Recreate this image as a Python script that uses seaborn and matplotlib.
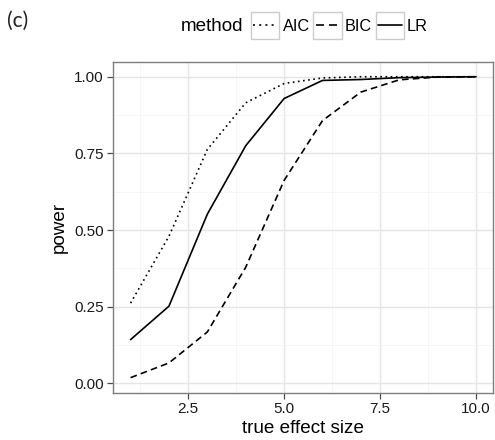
import matplotlib
matplotlib.use("Agg")
import matplotlib.pyplot as plt
from matplotlib.lines import Line2D
from matplotlib.patches import Rectangle
from matplotlib.ticker import MultipleLocator
import numpy as np
import pandas as pd
import seaborn as sns

# Power of each selection method across true effect sizes
effect_size = [1, 2, 3, 4, 5, 6, 7, 8, 9, 10]
power_aic = [0.262, 0.48, 0.763, 0.915, 0.978, 0.996, 1.0, 1.0, 1.0, 1.0]
power_bic = [0.019, 0.067, 0.168, 0.379, 0.662, 0.857, 0.95, 0.99, 0.999, 1.0]
power_lr = [0.143, 0.252, 0.552, 0.775, 0.929, 0.988, 0.991, 0.997, 0.999, 1.0]
methods = ["AIC", "BIC", "LR"]
x_ticks = [2.5, 5.0, 7.5, 10.0]
y_ticks = [0.0, 0.25, 0.5, 0.75, 1.0]

df = pd.DataFrame({
    "true effect size": effect_size * 3,
    "power": power_aic + power_bic + power_lr,
    "method": [m for m in methods for _ in effect_size],
})

sns.set_theme(style="white")
plt.rcParams["font.family"] = ["Liberation Sans", "DejaVu Sans"]

W, H = 495, 440
fig = plt.figure(figsize=(W / 100, H / 100), dpi=100)
ax = fig.add_axes([113.3 / W, 1 - 392.7 / H, 380 / W, 331 / H])

LW = 1.2
dash_styles = {"AIC": (1, 2.1), "BIC": (4, 2.5), "LR": ""}
sns.lineplot(data=df, x="true effect size", y="power", style="method",
             dashes=dash_styles, color="black", linewidth=LW,
             legend=False, ax=ax)

# theme_bw-like panel
lo, hi = min(power_bic), 1.0
pad = 0.05 * (hi - lo)
ax.set_ylim(lo - pad, hi + pad)
ax.set_xlim(1 - 0.45, 10 + 0.45)
ax.set_xticks(x_ticks)
ax.set_xticklabels(["2.5", "5.0", "7.5", "10.0"])
ax.set_yticks(y_ticks)
ax.set_yticklabels(["0.00", "0.25", "0.50", "0.75", "1.00"])
ax.xaxis.set_minor_locator(MultipleLocator(1.25))
ax.yaxis.set_minor_locator(MultipleLocator(0.125))
ax.grid(True, which="major", color="#E5E5E5", linewidth=1.0)
ax.grid(True, which="minor", color="#F5F5F5", linewidth=0.6)
ax.set_axisbelow(True)
for s in ax.spines.values():
    s.set_color("#7F7F7F")
    s.set_linewidth(1.0)
ax.tick_params(axis="both", which="major", length=4.2, width=0.9,
               color="#4D4D4D", labelsize=11, labelcolor="#1A1A1A",
               bottom=True, left=True, pad=2.5)
ax.tick_params(axis="both", which="minor", length=0)
ax.set_xlabel("true effect size", fontsize=13.6, color="black", labelpad=3)
ax.set_ylabel("power", fontsize=13.6, color="black", labelpad=5)

# panel tag
fig.text(7 / W, 1 - 21 / H, "(c)", fontsize=15, family=["Lato", "DejaVu Sans"],
         ha="left", va="center", color="#222222")

# legend strip across the top
def fx(px):
    return px / W

def fy(py):
    return 1 - py / H

key_y = 25.5
fig.text(fx(243), fy(key_y + 1), "method", fontsize=13.6, ha="right",
         va="center", color="black")
boxes = [(250.7, 283), (313, 345), (375.7, 407)]
for m, (bx, lx) in zip(methods, boxes):
    fig.patches.append(Rectangle((fx(bx), fy(39)), 28.5 / W, 27 / H,
                                 transform=fig.transFigure, fill=False,
                                 edgecolor="#CCCCCC", linewidth=1.0))
    ls = dash_styles[m]
    line = Line2D([fx(bx + 2.5), fx(bx + 26)], [fy(key_y), fy(key_y)],
                  transform=fig.transFigure, color="black", linewidth=LW)
    if ls:
        line.set_dashes([v * LW for v in ls])
    fig.lines.append(line)
    fig.text(fx(lx), fy(key_y + 1), m, fontsize=11.7, ha="left",
             va="center", color="black")

fig.savefig("out.png", dpi=100, facecolor="white")
